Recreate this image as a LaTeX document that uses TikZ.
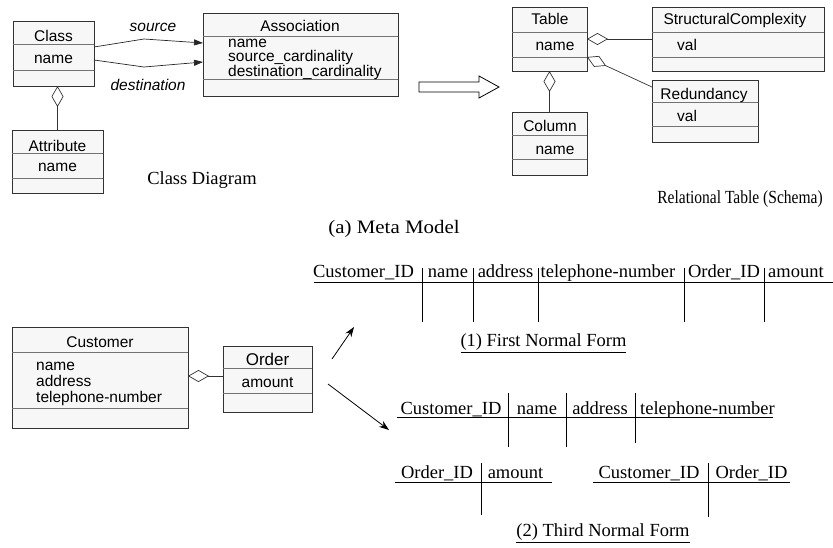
\documentclass[tikz,border=0pt]{standalone}
\usepackage{fontspec}
\usepackage{graphicx}
\setmainfont{Liberation Serif}
\setsansfont{Liberation Sans}
\usetikzlibrary{arrows.meta}
\newcommand\umlbox[7]{%
  \pgfmathsetmacro\ubw{#4-#2}%
  \pgfmathsetmacro\ubh{#5-#3}%
  \node[ubox, anchor=north west, minimum width=\ubw pt, minimum height=\ubh pt] (#1) at (#2,#3) {};
  \draw[usep] (#2,#6) -- (#4,#6);
  \draw[usep] (#2,#7) -- (#4,#7);
}
\begin{document}
\begin{tikzpicture}[x=1pt,y=-1pt,
  ubox/.style={rectangle, draw=black!80, fill=black!3, line width=0.8pt, inner sep=0pt, outer sep=0pt},
  usep/.style={draw=black!55, line width=0.7pt},
  utext/.style={font=\sffamily\fontsize{15.5}{17}\selectfont, inner sep=0pt, anchor=base},
  utextl/.style={utext, anchor=base west},
  ital/.style={font=\sffamily\itshape\fontsize{15.5}{17}\selectfont, inner sep=0pt, anchor=base},
  ser/.style={font=\fontsize{18.5}{20}\selectfont, inner sep=0pt, anchor=base},
  agg/.style={{Diamond[open,length=21pt,width=12pt]}-, line width=0.7pt, draw=black!80},
  assoc/.style={-{Triangle[length=9pt,width=6pt]}, line width=0.7pt, draw=black!85},
  darr/.style={-{Stealth[length=10pt,width=7pt]}, line width=0.8pt},
  tline/.style={line width=0.8pt}
]
\useasboundingbox (0,0) rectangle (833,547);

% ---------- Class diagram ----------
\umlbox{cls}{13}{21}{94}{86}{44}{70}
\node[utext] (clsh) at (53.5,41.5) {Class};
\node[utext] (clsn) at (53.5,63.5) {name};

\umlbox{ass}{203}{13}{398}{96}{36}{79}
\node[utext] (assh) at (300,31.5) {Association};
\node[utextl] (ass1) at (228,47) {name};
\node[utextl] (ass2) at (228,61.5) {source\_cardinality};
\node[utextl] (ass3) at (228,76) {destination\_cardinality};

\umlbox{attr}{12}{130}{103}{193}{153}{178}
\node[utext] (attrh) at (57.5,151) {Attribute};
\node[utext] (attrn) at (57.5,171.5) {name};

\coordinate (srcmid) at (144,39);
\coordinate (dstmid) at (144,67);
\draw[assoc] ([yshift=6.5pt]cls.east) -- (srcmid) -- ([yshift=11.5pt]ass.west);
\draw[assoc] ([yshift=-6.5pt]cls.east) -- (dstmid) -- ([yshift=-7.5pt]ass.west);
\node[ital] (srclab) at (153,31.5) {source};
\node[ital] (dstlab) at (148,90) {destination};

\draw[agg] (cls.south -| attr.north) -- (attr.north);

\node[ser] (cdcap) at (202,184) {Class Diagram};

% ---------- big arrow ----------
\draw[line width=0.8pt, fill=white] (419,82) -- (479,82) -- (479,76) -- (499,87) -- (479,98) -- (479,92) -- (419,92) -- cycle;

% ---------- Relational table schema ----------
\umlbox{tab}{512}{7}{587}{71}{32}{57}
\node[utext] (tabh) at (550,24) {Table};
\node[utext] (tabn) at (555,50) {name};

\umlbox{sc}{652}{7}{824}{71}{32}{57}
\node[utext] (sch) at (735,24) {StructuralComplexity};
\node[utextl] (scv) at (677,50) {val};

\umlbox{red}{652}{80}{758}{142}{102}{126}
\node[utext] (redh) at (704,99.5) {Redundancy};
\node[utextl] (redv) at (677,121.5) {val};

\umlbox{col}{512}{112}{587}{175}{135}{159}
\node[utext] (colh) at (550,131.5) {Column};
\node[utext] (coln) at (555,154) {name};

\draw[agg] (tab.east) -- (sc.west);
\draw[agg] ([yshift=-18pt]tab.east) -- ([yshift=-7pt]red.north west);
\draw[agg] (tab.south) -- (col.north);

\node[ser, anchor=base] (rtcap) at (740,203) {\scalebox{0.84}[1]{Relational Table (Schema)}};

\node[ser] (mmcap) at (394,233.5) {\fontsize{19}{21}\selectfont\scalebox{1.1}[1]{(a) Meta Model}};

% ---------- Customer / Order ----------
\umlbox{cust}{12}{327}{188}{428}{352}{408}
\node[utext] (custh) at (100,347.5) {Customer};
\node[utextl] (cust1) at (36,370) {name};
\node[utextl] (cust2) at (36,386) {address};
\node[utextl] (cust3) at (36,402) {telephone-number};

\umlbox{ord}{223}{346}{312}{412}{368}{393}
\node[utext, font=\sffamily\fontsize{17}{19}\selectfont] (ordh) at (267.5,365.5) {Order};
\node[utext] (ordn) at (267.5,387.5) {amount};

\coordinate (coj) at (0,376);
\draw[agg] (cust.east |- coj) -- (ord.west |- coj);

\coordinate (u1) at (332,359);
\coordinate (u2) at (354,327);
\coordinate (d1) at (328,384);
\coordinate (d2) at (389,430);
\draw[darr] (u1) -- (u2);
\draw[darr] (d1) -- (d2);

% ---------- First normal form ----------
\draw[tline] (314,282) -- (833,282);
\foreach \xx in {422,473,538,684,764} \draw[tline] (\xx,268) -- (\xx,322);
\node[ser] (f1) at (363.5,277) {Customer\_ID};
\node[ser] (f2) at (448,277) {name};
\node[ser] (f3) at (505.5,277) {address};
\node[ser] (f4) at (608,277) {telephone-number};
\node[ser] (f5) at (724,277) {Order\_ID};
\node[ser, anchor=base west] (f6) at (768,277) {amount};
\node[ser] (fcap) at (543.5,346.5) {\underline{(1) First Normal Form}};

% ---------- Third normal form ----------
\draw[tline] (397,417) -- (773,417);
\draw[tline] (508,393) -- (508,447);
\draw[tline] (566,393) -- (566,447);
\draw[tline] (635,393) -- (635,443);
\node[ser] (t1) at (451,414) {Customer\_ID};
\node[ser] (t2) at (537,414) {name};
\node[ser] (t3) at (600,414) {address};
\node[ser] (t4) at (707.5,414) {telephone-number};

\draw[tline] (395,482) -- (552,482);
\draw[tline] (481,463) -- (481,515);
\node[ser] (o1) at (437,478) {Order\_ID};
\node[ser] (o2) at (515.5,478) {amount};

\draw[tline] (593,482) -- (790,482);
\draw[tline] (708,463) -- (708,517);
\node[ser] (c1) at (649,478) {Customer\_ID};
\node[ser] (c2) at (751.5,478) {Order\_ID};

\node[ser] (tcap) at (603,536.5) {\underline{(2) Third Normal Form}};
\end{tikzpicture}
\end{document}
